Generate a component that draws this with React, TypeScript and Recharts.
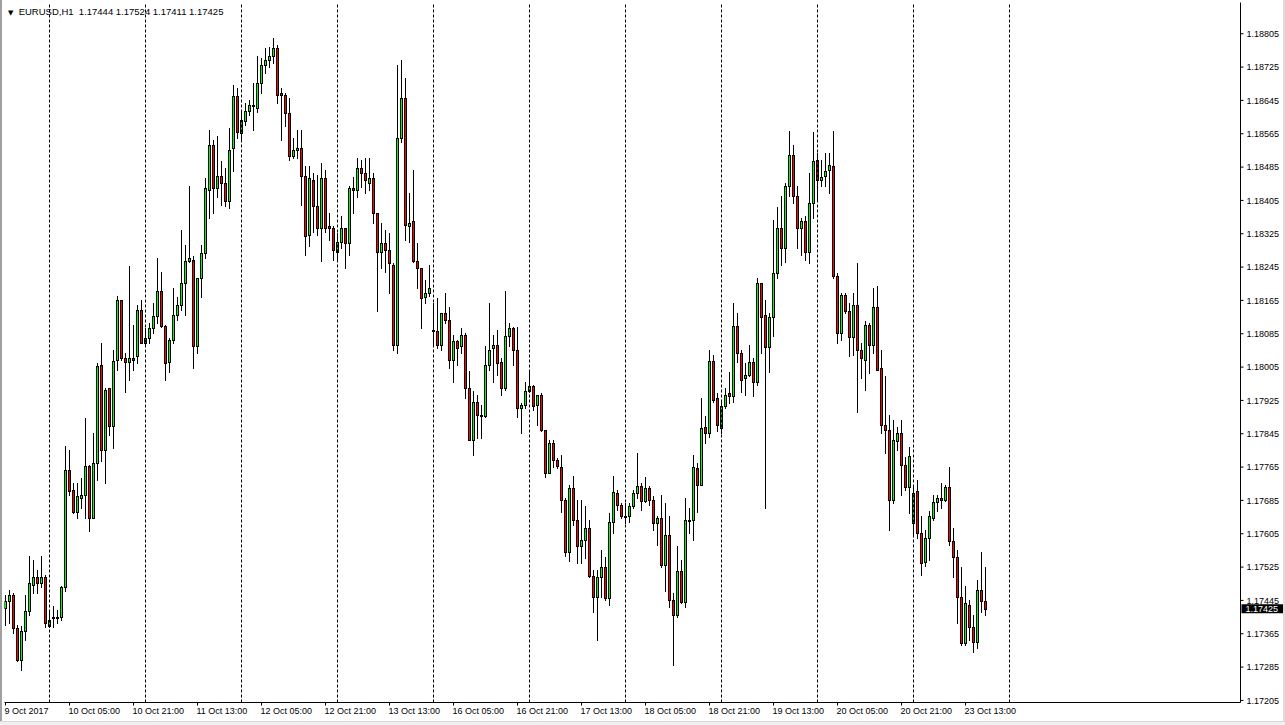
import React from 'react';
import { ComposedChart, Bar, XAxis, YAxis, ReferenceLine } from 'recharts';

// EURUSD H1 candles, 9 Oct 2017 13:00 .. 23 Oct 2017 18:00
const openPrices = [
  1.17426,1.17443,1.17459,1.17378,1.17303,1.17371,1.17419,1.17483,1.17500,1.17486,
  1.17500,1.17383,1.17402,1.17402,1.17404,1.17476,1.17757,1.17709,1.17656,1.17692,
  1.17699,1.17767,1.17644,1.17776,1.18009,1.17807,1.17954,1.17863,1.18021,1.18165,
  1.18028,1.18016,1.18026,1.18031,1.18143,1.18064,1.18074,1.18098,1.18127,1.18187,
  1.18103,1.18016,1.18069,1.18129,1.18153,1.18208,1.18259,1.18263,1.18055,1.18218,
  1.18278,1.18431,1.18539,1.18434,1.18463,1.18446,1.18403,1.18530,1.18655,1.18566,
  1.18595,1.18619,1.18631,1.18628,1.18688,1.18731,1.18743,1.18751,1.18770,1.18662,
  1.18659,1.18614,1.18511,1.18527,1.18532,1.18463,1.18323,1.18455,1.18391,1.18338,
  1.18458,1.18343,1.18340,1.18280,1.18304,1.18338,1.18302,1.18434,1.18431,1.18482,
  1.18470,1.18446,1.18458,1.18374,1.18280,1.18302,1.18287,1.18251,1.18059,1.18556,
  1.18652,1.18343,1.18355,1.18259,1.18242,1.18172,1.18182,1.18091,1.18091,1.18057,
  1.18136,1.18119,1.18021,1.18067,1.18055,1.18083,1.17956,1.17831,1.17920,1.17889,
  1.17887,1.18009,1.18050,1.18059,1.18016,1.17954,1.18079,1.18098,1.18047,1.17906,
  1.17915,1.17947,1.17959,1.17913,1.17939,1.17853,1.17752,1.17824,1.17781,1.17764,
  1.17687,1.17560,1.17714,1.17639,1.17575,1.17591,1.17620,1.17503,1.17452,1.17500,
  1.17524,1.17450,1.17632,1.17702,1.17673,1.17647,1.17647,1.17671,1.17702,1.17719,
  1.17683,1.17714,1.17687,1.17630,1.17642,1.17529,1.17603,1.17447,1.17409,1.17515,
  1.17440,1.17637,1.17637,1.17762,1.17723,1.17860,1.17848,1.18019,1.17930,1.17858,
  1.17911,1.17942,1.17935,1.18103,1.18038,1.17978,1.17987,1.18016,1.17968,1.18206,
  1.18129,1.18052,1.18124,1.18230,1.18340,1.18292,1.18439,1.18513,1.18415,1.18340,
  1.18355,1.18280,1.18398,1.18503,1.18455,1.18463,1.18477,1.18487,1.18223,1.18086,
  1.18177,1.18139,1.18076,1.18153,1.18047,1.18023,1.18105,1.18059,1.18148,1.18002,
  1.17867,1.17855,1.17687,1.17827,1.17848,1.17769,1.17716,1.17630,1.17707,1.17606,
  1.17536,1.17594,1.17644,1.17680,1.17690,1.17687,1.17716,1.17587,1.17548,1.17452,
  1.17342,1.17435,1.17380,1.17344,1.17469,1.17444,
];

const highPrices = [
  1.17457,1.17469,1.17462,1.17385,1.17383,1.17457,1.17551,1.17543,1.17519,1.17551,
  1.17507,1.17421,1.17431,1.17421,1.17479,1.17815,1.17805,1.17726,1.17726,1.17738,
  1.17882,1.17769,1.17848,1.18014,1.18062,1.17956,1.17956,1.18047,1.18175,1.18167,
  1.18038,1.18247,1.18107,1.18153,1.18167,1.18098,1.18110,1.18160,1.18268,1.18232,
  1.18105,1.18074,1.18196,1.18172,1.18333,1.18297,1.18439,1.18271,1.18220,1.18299,
  1.18458,1.18575,1.18551,1.18559,1.18499,1.18484,1.18578,1.18683,1.18676,1.18616,
  1.18638,1.18647,1.18686,1.18751,1.18746,1.18770,1.18772,1.18794,1.18779,1.18676,
  1.18662,1.18652,1.18556,1.18573,1.18573,1.18487,1.18487,1.18470,1.18465,1.18496,
  1.18479,1.18374,1.18343,1.18326,1.18367,1.18340,1.18439,1.18460,1.18506,1.18503,
  1.18506,1.18506,1.18472,1.18376,1.18350,1.18335,1.18326,1.18254,1.18731,1.18741,
  1.18700,1.18422,1.18479,1.18302,1.18244,1.18215,1.18249,1.18158,1.18170,1.18136,
  1.18184,1.18148,1.18081,1.18069,1.18098,1.18086,1.17995,1.17947,1.17937,1.17913,
  1.18055,1.18158,1.18081,1.18093,1.18028,1.18187,1.18110,1.18100,1.18100,1.17918,
  1.17968,1.17997,1.17961,1.17939,1.17942,1.17855,1.17831,1.17831,1.17786,1.17793,
  1.17690,1.17723,1.17743,1.17685,1.17687,1.17671,1.17639,1.17517,1.17517,1.17565,
  1.17548,1.17654,1.17743,1.17711,1.17678,1.17678,1.17678,1.17709,1.17798,1.17726,
  1.17740,1.17719,1.17695,1.17647,1.17697,1.17678,1.17647,1.17464,1.17575,1.17541,
  1.17692,1.17666,1.17793,1.17776,1.17930,1.17887,1.18045,1.18033,1.17942,1.17920,
  1.17956,1.17992,1.18158,1.18134,1.18045,1.18014,1.18059,1.18026,1.18218,1.18208,
  1.18165,1.18134,1.18357,1.18388,1.18415,1.18448,1.18571,1.18537,1.18439,1.18364,
  1.18367,1.18470,1.18568,1.18518,1.18501,1.18520,1.18520,1.18571,1.18230,1.18184,
  1.18182,1.18158,1.18182,1.18254,1.18064,1.18115,1.18110,1.18194,1.18199,1.18045,
  1.17983,1.17889,1.17877,1.17860,1.17877,1.17788,1.17812,1.17716,1.17733,1.17647,
  1.17615,1.17659,1.17699,1.17697,1.17726,1.17721,1.17764,1.17620,1.17567,1.17524,
  1.17479,1.17447,1.17409,1.17495,1.17560,1.17524,
];

const lowPrices = [
  1.17385,1.17390,1.17366,1.17299,1.17277,1.17349,1.17411,1.17462,1.17462,1.17476,
  1.17380,1.17380,1.17380,1.17390,1.17397,1.17467,1.17697,1.17654,1.17644,1.17666,
  1.17644,1.17611,1.17642,1.17735,1.17779,1.17726,1.17841,1.17810,1.17999,1.18021,
  1.17944,1.17975,1.17997,1.18014,1.18062,1.18057,1.18064,1.18086,1.18112,1.18100,
  1.17975,1.17992,1.18064,1.18117,1.18143,1.18129,1.18256,1.18004,1.18040,1.18172,
  1.18266,1.18362,1.18376,1.18412,1.18393,1.18391,1.18386,1.18475,1.18556,1.18547,
  1.18587,1.18609,1.18575,1.18616,1.18662,1.18710,1.18724,1.18734,1.18638,1.18549,
  1.18583,1.18503,1.18506,1.18508,1.18393,1.18275,1.18295,1.18328,1.18323,1.18259,
  1.18328,1.18309,1.18263,1.18263,1.18292,1.18242,1.18275,1.18376,1.18412,1.18436,
  1.18424,1.18429,1.18350,1.18139,1.18244,1.18232,1.18182,1.18047,1.18040,1.18544,
  1.18309,1.18304,1.18256,1.18194,1.18098,1.18160,1.18175,1.18057,1.18050,1.18047,
  1.18112,1.18002,1.17968,1.18009,1.18038,1.17932,1.17829,1.17795,1.17834,1.17834,
  1.17884,1.17997,1.17968,1.17985,1.17939,1.17951,1.18055,1.18009,1.17884,1.17848,
  1.17908,1.17944,1.17903,1.17867,1.17851,1.17740,1.17750,1.17764,1.17762,1.17656,
  1.17551,1.17539,1.17625,1.17534,1.17534,1.17546,1.17500,1.17416,1.17351,1.17452,
  1.17445,1.17433,1.17606,1.17661,1.17644,1.17630,1.17632,1.17668,1.17692,1.17661,
  1.17680,1.17675,1.17615,1.17577,1.17524,1.17467,1.17428,1.17291,1.17404,1.17438,
  1.17428,1.17606,1.17589,1.17656,1.17721,1.17824,1.17836,1.17920,1.17851,1.17846,
  1.17908,1.17918,1.17920,1.18016,1.17944,1.17937,1.17983,1.17935,1.17961,1.18038,
  1.17668,1.17992,1.18079,1.18220,1.18249,1.18256,1.18415,1.18400,1.18290,1.18273,
  1.18261,1.18254,1.18364,1.18405,1.18439,1.18439,1.18424,1.18218,1.18064,1.18069,
  1.18134,1.18031,1.18033,1.17896,1.17978,1.17951,1.17990,1.18040,1.17997,1.17848,
  1.17798,1.17615,1.17678,1.17805,1.17697,1.17711,1.17654,1.17601,1.17596,1.17505,
  1.17527,1.17543,1.17639,1.17659,1.17668,1.17683,1.17577,1.17500,1.17390,1.17339,
  1.17337,1.17349,1.17320,1.17330,1.17416,1.17411,
];

const closePrices = [
  1.17443,1.17459,1.17378,1.17301,1.17371,1.17419,1.17488,1.17500,1.17486,1.17500,
  1.17390,1.17399,1.17404,1.17404,1.17476,1.17757,1.17707,1.17656,1.17695,1.17699,
  1.17767,1.17644,1.17774,1.18007,1.17807,1.17951,1.17863,1.18019,1.18165,1.18028,
  1.18016,1.18028,1.18023,1.18141,1.18064,1.18074,1.18098,1.18127,1.18187,1.18103,
  1.18014,1.18071,1.18129,1.18153,1.18208,1.18259,1.18266,1.18055,1.18218,1.18278,
  1.18434,1.18537,1.18434,1.18463,1.18448,1.18403,1.18527,1.18655,1.18568,1.18597,
  1.18619,1.18633,1.18633,1.18688,1.18731,1.18743,1.18751,1.18770,1.18659,1.18659,
  1.18614,1.18511,1.18527,1.18532,1.18463,1.18319,1.18458,1.18391,1.18340,1.18458,
  1.18338,1.18338,1.18287,1.18304,1.18338,1.18302,1.18434,1.18431,1.18482,1.18470,
  1.18453,1.18458,1.18374,1.18280,1.18302,1.18287,1.18254,1.18059,1.18556,1.18652,
  1.18345,1.18352,1.18259,1.18242,1.18170,1.18182,1.18196,1.18093,1.18059,1.18134,
  1.18119,1.18021,1.18067,1.18050,1.18083,1.17956,1.17831,1.17920,1.17889,1.17887,
  1.18009,1.18047,1.18059,1.18014,1.17954,1.18079,1.18098,1.18047,1.17908,1.17915,
  1.17947,1.17959,1.17911,1.17937,1.17853,1.17752,1.17824,1.17781,1.17767,1.17687,
  1.17560,1.17714,1.17637,1.17575,1.17591,1.17618,1.17503,1.17452,1.17500,1.17524,
  1.17450,1.17632,1.17704,1.17673,1.17647,1.17646,1.17671,1.17702,1.17719,1.17683,
  1.17714,1.17687,1.17630,1.17642,1.17529,1.17603,1.17445,1.17411,1.17515,1.17440,
  1.17639,1.17639,1.17764,1.17723,1.17858,1.17846,1.18019,1.17925,1.17865,1.17911,
  1.17939,1.17935,1.18103,1.18038,1.17975,1.17987,1.18016,1.17968,1.18206,1.18124,
  1.18052,1.18124,1.18230,1.18338,1.18292,1.18439,1.18513,1.18415,1.18338,1.18355,
  1.18280,1.18398,1.18499,1.18455,1.18460,1.18475,1.18489,1.18223,1.18086,1.18177,
  1.18139,1.18076,1.18155,1.18045,1.18026,1.18105,1.18059,1.18148,1.17999,1.17865,
  1.17853,1.17687,1.17831,1.17848,1.17769,1.17716,1.17791,1.17702,1.17606,1.17536,
  1.17594,1.17647,1.17680,1.17692,1.17687,1.17716,1.17587,1.17548,1.17452,1.17342,
  1.17438,1.17380,1.17344,1.17469,1.17443,1.17425,
];

const timeLabelIndex = [0, 16, 32, 48, 64, 80, 96, 112, 128, 144, 160, 176, 192, 208, 224, 240];
const timeLabels = [
  '9 Oct 2017', '10 Oct 05:00', '10 Oct 21:00', '11 Oct 13:00', '12 Oct 05:00', '12 Oct 21:00',
  '13 Oct 13:00', '16 Oct 05:00', '16 Oct 21:00', '17 Oct 13:00', '18 Oct 05:00', '18 Oct 21:00',
  '19 Oct 13:00', '20 Oct 05:00', '20 Oct 21:00', '23 Oct 13:00',
];
const daySeparatorIndex = [11, 35, 59, 83, 107, 131, 155, 179, 203, 227, 251];
const priceTicks = [
  1.17205, 1.17285, 1.17365, 1.17445, 1.17525, 1.17605, 1.17685, 1.17765, 1.17845, 1.17925,
  1.18005, 1.18085, 1.18165, 1.18245, 1.18325, 1.18405, 1.18485, 1.18565, 1.18645, 1.18725, 1.18805,
];
const priceDomain = [1.172, 1.1888];
const indexDomain = [-0.25, 308.75];
const symbolTitle = 'EURUSD,H1';

const data = openPrices.map((o, i) => ({
  idx: i,
  open: o,
  high: highPrices[i],
  low: lowPrices[i],
  close: closePrices[i],
  range: [lowPrices[i], highPrices[i]],
}));

const last = data[data.length - 1];
const FONT = "'Liberation Sans', Arial, sans-serif";

const Candle = (props: any) => {
  const { x, y, width, height, payload } = props;
  if (!payload || x == null) return null;
  const top = Math.min(y, y + height);
  const bottom = Math.max(y, y + height);
  const { open, high, low, close } = payload;
  const span = high - low;
  const toY = (p: number) => (span > 0 ? top + ((high - p) / span) * (bottom - top) : top);
  const cx = Math.floor(x + width / 2) + 0.5;
  const yo = toY(open);
  const yc = toY(close);
  const bTop = Math.round(Math.min(yo, yc)) + 0.5;
  let bBot = Math.round(Math.max(yo, yc)) + 0.5;
  if (bBot - bTop < 1) bBot = bTop + 1;
  const up = close >= open;
  return (
    <g>
      <line x1={cx} x2={cx} y1={Math.round(top)} y2={Math.round(bottom) + 1} stroke="#000" strokeWidth={1} />
      <rect x={cx - 1} y={bTop} width={2} height={bBot - bTop} fill={up ? '#00ff00' : '#ff0000'} stroke="#000" strokeWidth={1} />
    </g>
  );
};

const TimeTick = (props: any) => {
  const { x, y, payload } = props;
  const k = timeLabelIndex.indexOf(payload.value);
  return (
    <text x={x - 1} y={y} dy="0.72em" textAnchor="start" fontFamily={FONT} fontSize={9} fill="#000">
      {k >= 0 ? timeLabels[k] : ''}
    </text>
  );
};

const PriceTag = (props: any) => {
  const vb = props.viewBox || {};
  const px = (vb.x || 0) + (vb.width || 0);
  const py = vb.y || 0;
  return (
    <g>
      <rect x={px + 1} y={py - 4.5} width={42} height={9} fill="#000" />
      <text x={px + 5} y={py} dy="0.36em" fontFamily={FONT} fontSize={9} fill="#fff">
        {last.close.toFixed(5)}
      </text>
    </g>
  );
};

export default function App() {
  return (
    <div style={{ position: 'absolute', left: 0, top: 0, width: 1285, height: 725, background: '#fff', overflow: 'hidden' }}>
      <ComposedChart
        width={1285}
        height={725}
        data={data}
        margin={{ top: 2.5, right: 0.5, bottom: 0.5, left: 4.5 }}
      >
        <XAxis
          xAxisId="main"
          dataKey="idx"
          type="number"
          domain={indexDomain}
          allowDataOverflow
          ticks={timeLabelIndex}
          interval={0}
          tick={<TimeTick />}
          tickSize={3}
          tickMargin={2}
          height={22}
          axisLine={{ stroke: '#000' }}
          tickLine={{ stroke: '#000' }}
        />
        <XAxis xAxisId="top" orientation="top" type="number" dataKey="idx" domain={indexDomain} allowDataOverflow height={0} tick={false} tickLine={false} axisLine={{ stroke: '#000' }} />
        <YAxis
          yAxisId="price"
          orientation="right"
          type="number"
          domain={priceDomain}
          allowDataOverflow
          ticks={priceTicks}
          interval={0}
          width={44}
          tickSize={3}
          tickMargin={3}
          tickFormatter={(v: number) => v.toFixed(5)}
          tick={{ fontFamily: FONT, fontSize: 9, fill: '#000' }}
          axisLine={{ stroke: '#000' }}
          tickLine={{ stroke: '#000' }}
        />
        <YAxis yAxisId="left" orientation="left" type="number" domain={priceDomain} allowDataOverflow width={0} tick={false} tickLine={false} axisLine={{ stroke: '#000' }} />
        {daySeparatorIndex.map((d) => (
          <ReferenceLine key={d} xAxisId="main" yAxisId="price" x={d} stroke="#000" strokeDasharray="3 2" ifOverflow="visible" />
        ))}
        <Bar
          xAxisId="main"
          yAxisId="price"
          dataKey="range"
          barSize={3}
          shape={<Candle />}
          isAnimationActive={false}
        />
        <ReferenceLine xAxisId="main" yAxisId="price" y={last.close} stroke="none" ifOverflow="visible" label={<PriceTag />} />
      </ComposedChart>
      <div style={{ position: 'absolute', left: 8, top: 6, fontFamily: FONT, fontSize: 9.5, color: '#000', whiteSpace: 'pre', lineHeight: '12px' }}>
        <span style={{ fontFamily: "'DejaVu Sans'", fontSize: 7 }}>▼</span>
        {'  ' + symbolTitle + '  ' + [last.open, last.high, last.low, last.close].map((v) => v.toFixed(5)).join(' ')}
      </div>
      <div style={{ position: 'absolute', left: 0, top: 0, width: 2, height: 725, background: '#a0a0a0' }} />
      <div style={{ position: 'absolute', left: 1283, top: 0, width: 2, height: 725, background: '#dcdcdc' }} />
      <div style={{ position: 'absolute', left: 0, top: 721, width: 1285, height: 4, background: '#f0f0f0', borderTop: '1px solid #d8d8d8' }} />
    </div>
  );
}
